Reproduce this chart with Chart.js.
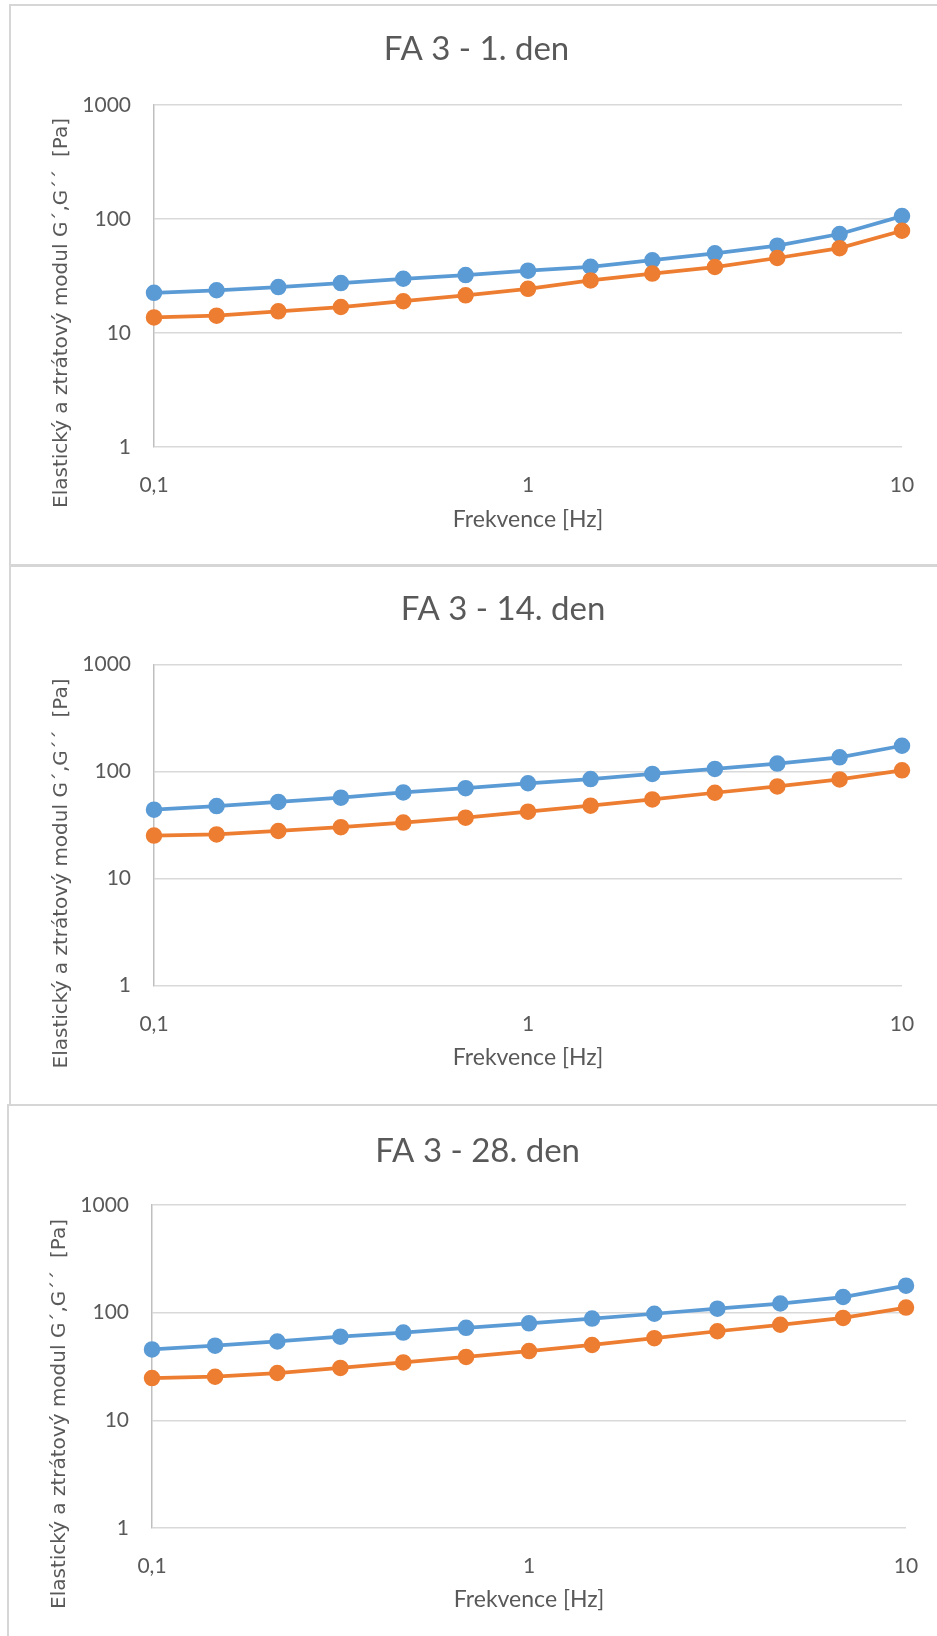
<!DOCTYPE html>
<html lang="cs">
<head>
<meta charset="utf-8">
<title>FA 3 – G´, G´´</title>
<script src="https://cdn.jsdelivr.net/npm/chart.js@4.4.1/dist/chart.umd.min.js"></script>
<style>
  html, body { margin: 0; padding: 0; background: #fff; overflow: hidden; }
  body { position: relative; width: 937px; height: 1636px; }
  .ramecek { position: absolute; border: 2px solid #d6d6d6; box-sizing: border-box; }
  canvas { position: absolute; left: 0; }
</style>
</head>
<body>
<div class="ramecek" style="left:9px; top:4px; width:1000px; height:563px;"></div>
<div class="ramecek" style="left:9px; top:564px; width:1000px; height:542px;"></div>
<div class="ramecek" style="left:7px; top:1104px; width:1000px; height:600px;"></div>

<canvas id="graf1" width="937" height="565" style="top:0px"></canvas>
<canvas id="graf2" width="937" height="540" style="top:565px"></canvas>
<canvas id="graf3" width="937" height="531" style="top:1105px"></canvas>

<script>
// Frekvence [Hz]
const frekvence = [0.1, 0.147, 0.215, 0.316, 0.464, 0.681, 1, 1.47, 2.15, 3.16, 4.64, 6.81, 10];

// 1. den
const gElast1 = [22.5, 23.7, 25.3, 27.4, 29.9, 32.2, 35.2, 38.1, 43.5, 50.0, 58.4, 73.8, 106];
const gZtrat1 = [13.7, 14.2, 15.5, 16.9, 19.0, 21.4, 24.4, 28.9, 33.2, 37.9, 45.5, 55.5, 78.9];

// 14. den
const gElast14 = [44.0, 47.5, 52.0, 56.9, 63.7, 69.8, 77.6, 84.9, 95.0, 105.7, 118.5, 135.6, 174];
const gZtrat14 = [25.2, 25.8, 27.8, 30.2, 33.3, 37.0, 42.1, 47.9, 54.8, 63.3, 72.5, 84.3, 102.5];

// 28. den
const gElast28 = [45.6, 49.4, 54.0, 59.8, 65.3, 72.3, 79.6, 88.1, 97.7, 109, 121.6, 139.7, 178];
const gZtrat28 = [24.7, 25.4, 27.5, 30.7, 34.5, 38.8, 44.0, 50.1, 58.0, 67.2, 77.2, 89.4, 111.4];

// popisky os
const xTicks = [0.1, 1, 10];
const xTickLabels = ["0,1", "1", "10"];
const yTicks = [1, 10, 100, 1000];
const yTickLabels = ["1", "10", "100", "1000"];

const nazevX = "Frekvence [Hz]";
const nazevY = "Elastický a ztrátový modul G´,G´´  [Pa]";

const barvaText = "#595959";

// nadpis a názvy os kreslíme sami, aby seděly na místo
const popisky = {
  id: "popisky",
  afterDraw(chart, args, opts) {
    const ctx = chart.ctx;
    const a = chart.chartArea;
    ctx.save();
    ctx.fillStyle = barvaText;
    ctx.textAlign = "center";
    ctx.textBaseline = "alphabetic";
    ctx.font = "33px Lato";
    ctx.fillText(opts.nadpis, opts.nadpisX, opts.nadpisY);
    ctx.font = "23px Lato";
    ctx.fillText(nazevX, (a.left + a.right) / 2, opts.osaXY);
    ctx.translate(opts.osaYX, opts.osaYY);
    ctx.rotate(-Math.PI / 2);
    ctx.font = '20px "DejaVu Sans"';
    ctx.textBaseline = "middle";
    ctx.fillText(nazevY, 0, 0);
    ctx.restore();
  }
};

function body(hodnoty) {
  return frekvence.map((f, i) => ({ x: f, y: hodnoty[i] }));
}

function vytvorGraf(id, nadpis, elast, ztrat, r) {
  const canvas = document.getElementById(id);
  const ctx = canvas.getContext("2d");

  return new Chart(ctx, {
    type: "line",
    data: {
      datasets: [
        {
          label: "G´",
          data: body(elast),
          borderColor: "#5B9BD5",
          backgroundColor: "#5B9BD5",
          borderWidth: 3.75,
          pointRadius: 7.5,
          pointBorderWidth: 1.5,
          tension: 0,
          clip: false,
          order: 1
        },
        {
          label: "G´´",
          data: body(ztrat),
          borderColor: "#ED7D31",
          backgroundColor: "#ED7D31",
          borderWidth: 3.75,
          pointRadius: 7.5,
          pointBorderWidth: 1.5,
          tension: 0,
          clip: false,
          order: 0
        }
      ]
    },
    options: {
      responsive: false,
      animation: false,
      devicePixelRatio: 1,
      layout: {
        padding: { top: r.t, left: 0, right: canvas.width - r.r, bottom: canvas.height - r.b - 60 }
      },
      plugins: {
        legend: { display: false },
        tooltip: { enabled: false },
        title: { display: false },
        popisky: {
          nadpis: nadpis,
          nadpisX: r.nadpisX,
          nadpisY: r.nadpisY,
          osaXY: r.osaXY,
          osaYX: r.osaYX,
          osaYY: r.osaYY
        }
      },
      scales: {
        x: {
          type: "logarithmic",
          min: 0.1,
          max: 10,
          grid: { display: false },
          border: { display: false },
          ticks: {
            color: barvaText,
            font: { family: "Lato", size: 21 },
            padding: 18,
            maxRotation: 0,
            autoSkip: false,
            callback: (v) => {
              const i = xTicks.indexOf(v);
              return i >= 0 ? xTickLabels[i] : "";
            }
          },
          afterBuildTicks: (scale) => { scale.ticks = xTicks.map(v => ({ value: v })); },
          afterFit: (scale) => {
            scale.height = 60;
            scale.paddingLeft = 0;
            scale.paddingRight = 0;
          }
        },
        y: {
          type: "logarithmic",
          min: 1,
          max: 1000,
          grid: { color: "#d9d9d9", lineWidth: 1.5, drawTicks: false },
          border: { display: true, color: "#bfbfbf", width: 1.5 },
          ticks: {
            color: barvaText,
            font: { family: "Lato", size: 21 },
            padding: 23,
            autoSkip: false,
            callback: (v) => {
              const i = yTicks.indexOf(v);
              return i >= 0 ? yTickLabels[i] : "";
            }
          },
          afterBuildTicks: (scale) => { scale.ticks = yTicks.map(v => ({ value: v })); },
          afterFit: (scale) => {
            scale.width = r.l;
            scale.paddingTop = 0;
            scale.paddingBottom = 0;
          }
        }
      }
    },
    plugins: [popisky]
  });
}

vytvorGraf("graf1", "FA 3 - 1. den", gElast1, gZtrat1,
  { l: 154, r: 902, t: 105, b: 447, nadpisX: 476.5, nadpisY: 60, osaXY: 527, osaYX: 62, osaYY: 313 });
vytvorGraf("graf2", "FA 3 - 14. den", gElast14, gZtrat14,
  { l: 154, r: 902, t: 99.5, b: 420.5, nadpisX: 503, nadpisY: 54.6, osaXY: 500, osaYX: 62, osaYY: 308.5 });
vytvorGraf("graf3", "FA 3 - 28. den", gElast28, gZtrat28,
  { l: 152, r: 906, t: 100, b: 423, nadpisX: 477.7, nadpisY: 56.5, osaXY: 502, osaYX: 60, osaYY: 309 });
</script>
</body>
</html>
